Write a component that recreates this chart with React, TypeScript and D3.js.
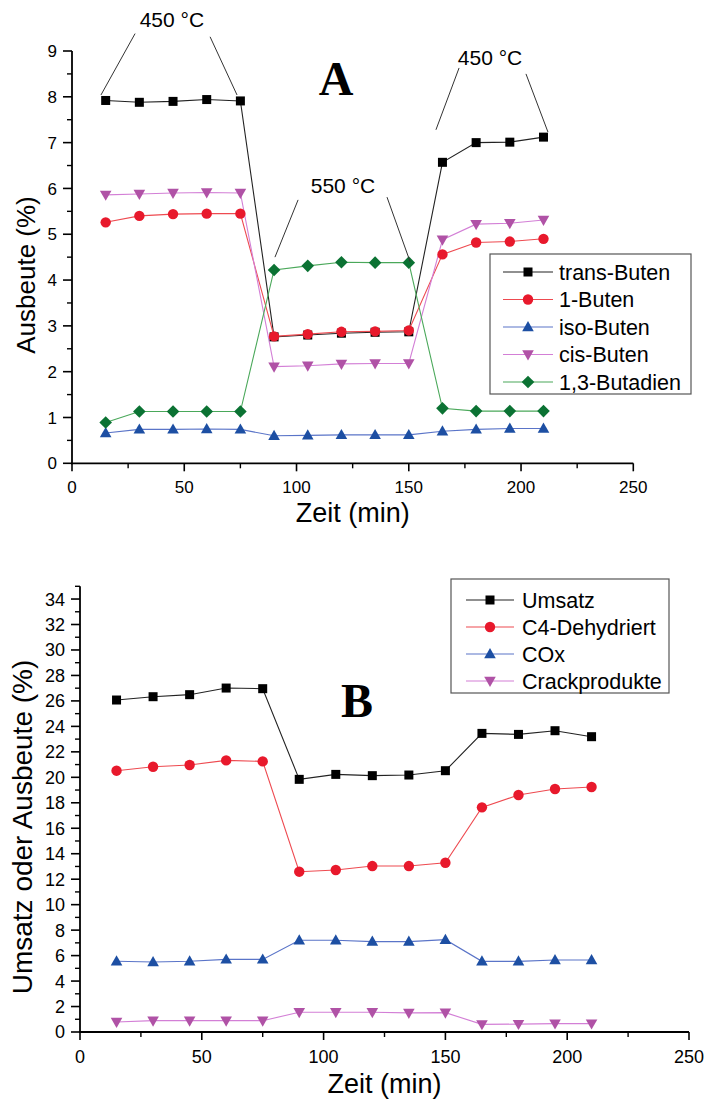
import React from "react";
import * as d3 from "d3";

// Sampling times (min)
const times = [15, 30, 45, 60, 75, 90, 105, 120, 135, 150, 165, 180, 195, 210];

// Panel A: yields of the individual C4 products (%)
const transButen = [7.92, 7.88, 7.9, 7.94, 7.91, 2.76, 2.8, 2.84, 2.86, 2.87, 6.57, 7.0, 7.01, 7.12];
const einsButen = [5.26, 5.4, 5.44, 5.45, 5.45, 2.77, 2.82, 2.87, 2.88, 2.9, 4.56, 4.82, 4.84, 4.9];
const isoButen = [0.66, 0.74, 0.74, 0.75, 0.74, 0.6, 0.61, 0.62, 0.62, 0.62, 0.7, 0.74, 0.76, 0.76];
const cisButen = [5.86, 5.88, 5.9, 5.91, 5.9, 2.11, 2.13, 2.17, 2.18, 2.18, 4.88, 5.22, 5.24, 5.31];
const butadien = [0.89, 1.13, 1.13, 1.13, 1.13, 4.22, 4.31, 4.39, 4.38, 4.38, 1.2, 1.14, 1.14, 1.14];

// Panel B: conversion and grouped yields (%)
const umsatz = [26.07, 26.33, 26.49, 27.01, 26.96, 19.84, 20.23, 20.13, 20.18, 20.52, 23.45, 23.37, 23.66, 23.19];
const c4Dehydriert = [20.52, 20.83, 20.97, 21.33, 21.25, 12.59, 12.72, 13.03, 13.03, 13.29, 17.64, 18.61, 19.08, 19.24];
const cox = [5.55, 5.5, 5.55, 5.7, 5.7, 7.2, 7.2, 7.1, 7.1, 7.25, 5.55, 5.55, 5.65, 5.65];
const crack = [0.78, 0.89, 0.89, 0.89, 0.89, 1.55, 1.55, 1.55, 1.5, 1.52, 0.6, 0.62, 0.66, 0.66];

// Axis ticks
const xTicks = [0, 50, 100, 150, 200, 250];
const xMinor = [25, 75, 125, 175, 225];
const yTicksA = [0, 1, 2, 3, 4, 5, 6, 7, 8, 9];
const yTicksB = d3.range(0, 35, 2);

type Shape = "square" | "circle" | "triangleUp" | "triangleDown" | "diamond";

const SANS = "'Liberation Sans', Arial, Helvetica, sans-serif";
const SERIF = "'Liberation Serif', 'Times New Roman', serif";

const seriesA = [
  { name: "trans-Buten", values: transButen, shape: "square" as Shape, fill: "#000000", line: "#222222" },
  { name: "1-Buten", values: einsButen, shape: "circle" as Shape, fill: "#e8192c", line: "#ee4a50" },
  { name: "iso-Buten", values: isoButen, shape: "triangleUp" as Shape, fill: "#1d4fa3", line: "#5a74c8" },
  { name: "cis-Buten", values: cisButen, shape: "triangleDown" as Shape, fill: "#b052a6", line: "#d37fd6" },
  { name: "1,3-Butadien", values: butadien, shape: "diamond" as Shape, fill: "#0b7233", line: "#4aa85a" },
];

const seriesB = [
  { name: "Umsatz", values: umsatz, shape: "square" as Shape, fill: "#000000", line: "#222222" },
  { name: "C4-Dehydriert", values: c4Dehydriert, shape: "circle" as Shape, fill: "#e8192c", line: "#ee4a50" },
  { name: "COx", values: cox, shape: "triangleUp" as Shape, fill: "#1d4fa3", line: "#5a74c8" },
  { name: "Crackprodukte", values: crack, shape: "triangleDown" as Shape, fill: "#b052a6", line: "#d37fd6" },
];

// Temperature annotations for panel A, in data units
const tempLabels = [
  { text: "450 °C", t: 44.5, v: 9.53 },
  { text: "550 °C", t: 120.7, v: 5.9 },
  { text: "450 °C", t: 186.2, v: 8.7 },
];
const leaders = [
  { t1: 28.1, v1: 9.38, t2: 12.9, v2: 8.04 },
  { t1: 61.5, v1: 9.31, t2: 73.5, v2: 8.04 },
  { t1: 100.7, v1: 5.75, t2: 90.4, v2: 4.5 },
  { t1: 140.3, v1: 5.81, t2: 150.6, v2: 4.4 },
  { t1: 172.4, v1: 8.63, t2: 162.1, v2: 7.28 },
  { t1: 202.2, v1: 8.5, t2: 212.0, v2: 7.23 },
];

function Marker({ shape, x, y, fill }: { shape: Shape; x: number; y: number; fill: string }) {
  switch (shape) {
    case "square":
      return <rect x={x - 4.5} y={y - 4.5} width={9} height={9} fill={fill} />;
    case "circle":
      return <circle cx={x} cy={y} r={5.2} fill={fill} />;
    case "triangleUp":
      return <path d={`M${x},${y - 6}L${x + 5.8},${y + 4.2}L${x - 5.8},${y + 4.2}Z`} fill={fill} />;
    case "triangleDown":
      return <path d={`M${x},${y + 6}L${x + 5.8},${y - 4.2}L${x - 5.8},${y - 4.2}Z`} fill={fill} />;
    case "diamond":
      return <path d={`M${x},${y - 6.3}L${x + 6.3},${y}L${x},${y + 6.3}L${x - 6.3},${y}Z`} fill={fill} />;
  }
}

type Series = { name: string; values: number[]; shape: Shape; fill: string; line: string };

function Panel({
  x,
  y,
  yTicks,
  yMinor,
  series,
  yTitle,
  yTitleFont,
  yTitleCenter,
  tickFont,
  xTickTop,
  xTitleY,
  yTitleX,
}: {
  x: d3.ScaleLinear<number, number>;
  y: d3.ScaleLinear<number, number>;
  yTicks: number[];
  yMinor: number[];
  series: Series[];
  yTitle: string;
  yTitleFont: number;
  yTitleCenter: number;
  tickFont: number;
  xTickTop: number;
  xTitleY: number;
  yTitleX: number;
}) {
  const [x0, x1] = x.range();
  const [yb, yt] = y.range();
  const line = d3
    .line<number>()
    .x((_, i) => x(times[i]))
    .y((d) => y(d));
  return (
    <g>
      {series.map((s) => (
        <path key={s.name + "l"} d={line(s.values) || ""} fill="none" stroke={s.line} strokeWidth={1.1} />
      ))}
      {series.map((s) => (
        <g key={s.name + "m"}>
          {s.values.map((v, i) => (
            <Marker key={i} shape={s.shape} x={x(times[i])} y={y(v)} fill={s.fill} />
          ))}
        </g>
      ))}
      {/* axes */}
      <line x1={x0} x2={x0} y1={yb + 1} y2={yt} stroke="#000" strokeWidth={1.8} />
      <line x1={x0 - 1} x2={x1} y1={yb} y2={yb} stroke="#000" strokeWidth={1.8} />
      {yTicks.map((t) => (
        <g key={"y" + t}>
          <line x1={x0 - 9} x2={x0} y1={y(t)} y2={y(t)} stroke="#000" strokeWidth={1.6} />
          <text x={x0 - 15} y={y(t)} dy="0.36em" textAnchor="end" fontFamily={SANS} fontSize={tickFont}>
            {t}
          </text>
        </g>
      ))}
      {yMinor.map((t) => (
        <line key={"ym" + t} x1={x0 - 5} x2={x0} y1={y(t)} y2={y(t)} stroke="#000" strokeWidth={1.4} />
      ))}
      {xTicks.map((t) => (
        <g key={"x" + t}>
          <line x1={x(t)} x2={x(t)} y1={yb} y2={yb + 8} stroke="#000" strokeWidth={1.6} />
          <text x={x(t)} y={xTickTop} textAnchor="middle" fontFamily={SANS} fontSize={tickFont}>
            {t}
          </text>
        </g>
      ))}
      {xMinor.map((t) => (
        <line key={"xm" + t} x1={x(t)} x2={x(t)} y1={yb} y2={yb + 5} stroke="#000" strokeWidth={1.4} />
      ))}
      <text x={(x0 + x1) / 2} y={xTitleY} textAnchor="middle" fontFamily={SANS} fontSize={27}>
        Zeit (min)
      </text>
      <text
        transform={`translate(${yTitleX},${yTitleCenter}) rotate(-90)`}
        textAnchor="middle"
        fontFamily={SANS}
        fontSize={yTitleFont}
      >
        {yTitle}
      </text>
    </g>
  );
}

function Legend({
  left,
  top,
  width,
  height,
  rowY0,
  rowStep,
  lineX0,
  lineX1,
  textX,
  series,
}: {
  left: number;
  top: number;
  width: number;
  height: number;
  rowY0: number;
  rowStep: number;
  lineX0: number;
  lineX1: number;
  textX: number;
  series: Series[];
}) {
  return (
    <g>
      <rect x={left} y={top} width={width} height={height} fill="#fff" stroke="#555" strokeWidth={1.2} />
      {series.map((s, i) => {
        const cy = rowY0 + i * rowStep;
        return (
          <g key={s.name}>
            <line x1={lineX0} x2={lineX1} y1={cy} y2={cy} stroke={s.line} strokeWidth={1.1} />
            <Marker shape={s.shape} x={(lineX0 + lineX1) / 2} y={cy} fill={s.fill} />
            <text x={textX} y={cy} dy="0.36em" fontFamily={SANS} fontSize={21.5}>
              {s.name}
            </text>
          </g>
        );
      })}
    </g>
  );
}

export default function App() {
  const xA = d3.scaleLinear().domain([0, 250]).range([72, 633.3]);
  const yA = d3.scaleLinear().domain([0, 9]).range([463.3, 51]);
  const xB = d3.scaleLinear().domain([0, 250]).range([80, 689]);
  const yB = d3.scaleLinear().domain([0, 35]).range([1032, 586.3]);

  const minorA = d3.range(0.5, 9, 1);
  const minorB = d3.range(1, 36, 2);

  return (
    <svg
      width={705}
      height={1101}
      viewBox="0 0 705 1101"
      style={{ position: "absolute", left: 0, top: 0, background: "#fff" }}
    >
      <rect width={705} height={1101} fill="#fff" />

      {/* Panel A */}
      <Panel
        x={xA}
        y={yA}
        yTicks={yTicksA}
        yMinor={minorA}
        series={seriesA}
        yTitle="Ausbeute (%)"
        yTitleFont={26}
        yTitleCenter={275}
        tickFont={17}
        xTickTop={493}
        xTitleY={522}
        yTitleX={35}
      />
      {leaders.map((l, i) => (
        <line
          key={"ld" + i}
          x1={xA(l.t1)}
          y1={yA(l.v1)}
          x2={xA(l.t2)}
          y2={yA(l.v2)}
          stroke="#333"
          strokeWidth={1}
        />
      ))}
      {tempLabels.map((l, i) => (
        <text key={"tl" + i} x={xA(l.t)} y={yA(l.v)} textAnchor="middle" fontFamily={SANS} fontSize={21}>
          {l.text}
        </text>
      ))}
      <text x={xA(117.6)} y={yA(8.04)} textAnchor="middle" fontFamily={SERIF} fontWeight="bold" fontSize={48}>
        A
      </text>
      <Legend
        left={490}
        top={254}
        width={201}
        height={140}
        rowY0={272}
        rowStep={27.5}
        lineX0={503}
        lineX1={553}
        textX={559}
        series={seriesA}
      />

      {/* Panel B */}
      <Panel
        x={xB}
        y={yB}
        yTicks={yTicksB}
        yMinor={minorB}
        series={seriesB}
        yTitle="Umsatz oder Ausbeute (%)"
        yTitleFont={28}
        yTitleCenter={827}
        tickFont={18}
        xTickTop={1063}
        xTitleY={1093}
        yTitleX={32}
      />
      <text x={xB(113.7)} y={yB(24.73)} textAnchor="middle" fontFamily={SERIF} fontWeight="bold" fontSize={48}>
        B
      </text>
      <Legend
        left={451}
        top={579}
        width={218}
        height={114}
        rowY0={600}
        rowStep={27}
        lineX0={466}
        lineX1={514}
        textX={522}
        series={seriesB}
      />
    </svg>
  );
}
